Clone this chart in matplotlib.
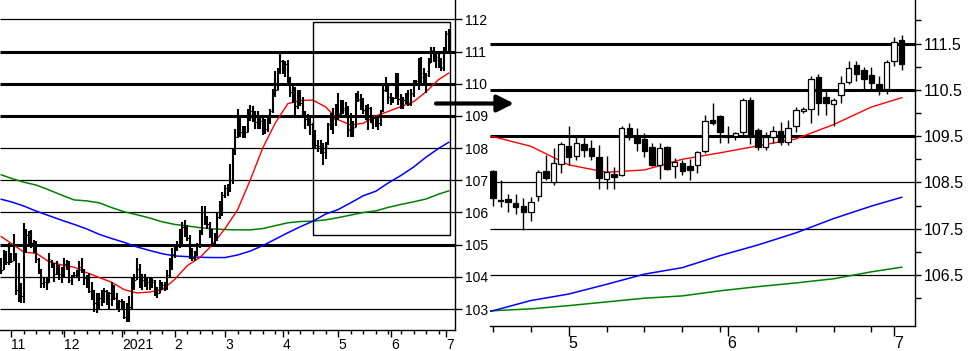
import numpy as np
import pandas as pd
import matplotlib
matplotlib.use("Agg")
import matplotlib.pyplot as plt
from matplotlib.patches import Rectangle, FancyArrowPatch

# trading days (weekdays) shown in the left chart
days = pd.bdate_range("2020-10-27", "2021-07-02")

opens = [104.5, 104.3, 104.6, 104.5, 104.65, 104.55, 104.7, 103.6, 103.5, 103.4,
         105.3, 105.3, 105.1, 105.0, 104.7, 104.5, 104.2, 103.8, 103.85, 103.85,
         104.5, 104.4, 104.1, 104.3, 104.1, 104.3, 104.4, 104.45, 103.9, 104.0,
         104.05, 104.15, 104.3, 104.2, 103.95, 103.9, 103.55, 103.45, 103.2, 103.3,
         103.35, 103.5, 103.55, 103.5, 103.5, 103.5, 103.35, 103.2, 103.25, 103.2,
         102.75, 102.7, 103.05, 103.8, 103.95, 104.25, 103.75, 103.9, 103.85, 103.85,
         103.7, 103.85, 103.5, 103.5, 103.8, 103.75, 103.65, 104.05, 104.3, 104.7,
         104.95, 105.0, 105.05, 105.55, 105.4, 105.2, 104.6, 104.6, 104.75, 104.95,
         105.35, 106.0, 105.85, 105.65, 105.45, 105.05, 105.25, 105.85, 106.2, 106.55,
         106.75, 106.7, 107.0, 107.95, 108.35, 108.9, 108.5, 108.4, 108.5, 109.0,
         109.15, 109.0, 108.8, 108.9, 108.85, 108.75, 108.6, 108.8, 109.15, 109.7,
         109.8, 110.35, 110.7, 110.6, 110.6, 110.2, 109.75, 109.85, 109.3, 109.65,
         109.4, 109.05, 108.9, 108.75,
         108.75, 108.12, 108.15, 108.05, 108.0, 107.87, 108.2, 108.75, 108.52, 108.9,
         109.29, 109.08, 109.33, 109.24, 109.05, 108.57, 108.68, 108.67, 109.67, 109.51,
         109.43, 109.26, 108.88, 109.26, 108.85, 108.93, 108.86, 108.87, 109.17, 109.85,
         109.94, 109.5, 109.51, 109.58, 110.28, 109.63, 109.26, 109.49, 109.62, 109.38,
         109.72, 110.04, 110.08, 110.77, 110.34, 110.19, 110.39, 110.66, 111.04, 110.93,
         110.82, 110.63, 110.51, 111.13, 111.58]
highs = [104.6, 104.84, 104.79, 105.05, 104.73, 105.33, 104.75, 104.42, 103.8, 105.66,
         105.5, 105.41, 105.45, 105.15, 105.1, 104.6, 104.25, 103.96, 104.0, 104.73,
         104.53, 104.42, 104.48, 104.37, 104.32, 104.58, 104.53, 104.5, 104.06, 104.16,
         104.22, 104.48, 104.58, 104.25, 104.06, 104.11, 103.85, 103.6, 103.49, 103.49,
         103.6, 103.65, 103.6, 103.54, 103.85, 103.75, 103.49, 103.29, 103.3, 103.25,
         103.2, 103.4, 104.0, 104.1, 104.6, 104.4, 104.1, 104.1, 104.0, 103.95,
         104.0, 103.9, 103.7, 103.9, 103.85, 103.85, 104.2, 104.6, 104.9, 105.0,
         105.1, 105.5, 105.7, 105.77, 105.6, 105.3, 104.9, 104.8, 105.05, 105.45,
         106.2, 106.2, 105.9, 105.7, 105.5, 105.35, 106.0, 106.35, 106.65, 106.85,
         106.9, 107.5, 108.0, 108.6, 109.2, 108.95, 108.7, 108.7, 109.2, 109.35,
         109.3, 109.15, 109.15, 109.0, 108.95, 108.9, 108.95, 109.2, 109.85, 110.4,
         110.5, 110.94, 110.75, 110.7, 110.75, 110.2, 109.95, 109.9, 109.8, 109.8,
         109.6, 109.15, 109.05, 108.95,
         108.77, 108.56, 108.26, 108.26, 108.16, 108.18, 108.77, 109.1, 109.24, 109.38,
         109.72, 109.49, 109.49, 109.42, 109.3, 109.08, 108.84, 109.72, 109.78, 109.67,
         109.56, 109.35, 109.36, 109.28, 109.02, 108.99, 109.0, 109.17, 109.96, 110.21,
         109.96, 109.71, 109.6, 110.33, 110.34, 109.67, 109.6, 109.71, 109.81, 109.85,
         110.12, 110.12, 110.79, 110.84, 110.48, 110.32, 110.79, 111.13, 111.13, 110.99,
         111.0, 110.79, 111.15, 111.65, 111.69]
lows = [104.1, 104.22, 104.37, 104.37, 104.42, 104.48, 103.44, 103.23, 103.18, 103.2,
        104.75, 104.94, 104.9, 104.73, 104.42, 104.1, 103.65, 103.65, 103.6, 103.8,
        104.27, 103.85, 104.05, 103.9, 103.8, 104.01, 104.22, 103.8, 103.75, 103.96,
        104.01, 103.86, 104.11, 103.75, 103.65, 103.49, 103.29, 102.9, 102.87, 102.97,
        103.08, 103.18, 103.13, 102.97, 103.08, 103.29, 102.97, 102.92, 103.0, 102.7,
        102.6, 102.6, 102.98, 103.6, 103.9, 103.65, 103.6, 103.7, 103.6, 103.6,
        103.65, 103.4, 103.35, 103.5, 103.6, 103.55, 103.6, 103.95, 104.2, 104.6,
        104.8, 104.9, 104.95, 105.25, 105.1, 104.55, 104.5, 104.5, 104.65, 104.9,
        105.3, 105.6, 105.5, 105.2, 104.95, 104.95, 105.1, 105.8, 105.9, 106.45,
        106.5, 106.65, 106.9, 107.8, 108.3, 108.35, 108.3, 108.3, 108.5, 108.85,
        108.8, 108.6, 108.6, 108.6, 108.4, 108.45, 108.5, 108.75, 109.1, 109.6,
        109.8, 110.3, 110.3, 110.2, 109.95, 109.6, 109.4, 109.0, 109.2, 109.3,
        108.95, 108.6, 108.7, 108.4,
        108.0, 107.97, 107.87, 107.82, 107.48, 107.66, 108.09, 108.56, 108.44, 108.7,
        108.88, 108.99, 109.06, 108.99, 108.36, 108.36, 108.36, 108.64, 109.42, 109.17,
        109.06, 108.86, 108.57, 108.77, 108.59, 108.67, 108.56, 108.7, 109.13, 109.74,
        109.36, 109.35, 109.41, 109.53, 109.33, 109.2, 109.2, 109.36, 109.31, 109.31,
        109.6, 109.99, 109.79, 109.96, 109.96, 109.72, 110.22, 110.63, 110.68, 110.48,
        110.48, 110.39, 110.41, 111.02, 110.93]
closes = [104.2, 104.7, 104.45, 104.65, 104.5, 105.0, 103.6, 103.5, 103.4, 105.3,
          105.3, 105.1, 105.05, 104.8, 104.55, 104.2, 103.8, 103.85, 103.8, 104.55,
          104.4, 104.1, 104.3, 104.1, 104.3, 104.4, 104.45, 103.9, 104.0, 104.05,
          104.15, 104.3, 104.2, 103.95, 103.9, 103.55, 103.45, 103.2, 103.3, 103.35,
          103.5, 103.55, 103.5, 103.5, 103.5, 103.35, 103.2, 103.25, 103.2, 102.75,
          102.7, 103.05, 103.8, 103.9, 104.25, 103.75, 103.9, 103.85, 103.85, 103.7,
          103.9, 103.5, 103.5, 103.8, 103.75, 103.65, 104.05, 104.3, 104.7, 104.95,
          105.0, 105.05, 105.55, 105.4, 105.2, 104.6, 104.6, 104.75, 104.95, 105.35,
          106.0, 105.85, 105.65, 105.45, 105.05, 105.25, 105.85, 106.2, 106.55, 106.75,
          106.7, 107.0, 107.95, 108.35, 108.9, 108.5, 108.4, 108.5, 109.0, 109.15,
          109.0, 108.8, 108.9, 108.85, 108.75, 108.6, 108.8, 109.15, 109.7, 109.8,
          110.35, 110.7, 110.6, 110.6, 110.2, 109.75, 109.85, 109.3, 109.65, 109.4,
          109.05, 108.9, 108.75, 108.75,
          108.16, 108.1, 108.07, 107.96, 107.87, 108.08, 108.72, 108.59, 108.93, 109.33,
          109.06, 109.35, 109.19, 109.08, 108.59, 108.72, 108.61, 109.67, 109.48, 109.35,
          109.18, 108.88, 109.24, 108.79, 108.95, 108.74, 108.77, 109.15, 109.82, 109.79,
          109.58, 109.48, 109.56, 110.28, 109.53, 109.27, 109.49, 109.62, 109.37, 109.67,
          110.07, 110.08, 110.73, 110.22, 110.22, 110.28, 110.64, 110.97, 110.84, 110.74,
          110.64, 110.5, 111.11, 111.53, 111.05]

# moving averages, read on the first day, every Monday and the last day
ma_red = [105.25, 105.04, 104.77, 104.73, 104.47, 104.37, 104.3, 104.13, 103.98, 103.83,
          103.6, 103.5, 103.53, 103.6, 103.92, 104.35, 104.6, 105.0, 105.5, 106.08,
          107.0, 108.0, 108.78, 109.38, 109.48, 109.49, 109.28, 108.88, 108.72, 108.77,
          109.0, 109.14, 109.29, 109.44, 109.75, 110.13, 110.33]
ma_blue = [106.41, 106.33, 106.2, 106.04, 105.9, 105.76, 105.63, 105.49, 105.32, 105.19,
           105.07, 104.93, 104.82, 104.72, 104.65, 104.63, 104.61, 104.6, 104.6, 104.68,
           104.8, 104.97, 105.17, 105.37, 105.56, 105.73, 105.95, 106.09, 106.3, 106.52,
           106.66, 106.92, 107.15, 107.41, 107.72, 107.99, 108.18]
ma_green = [107.17, 107.06, 106.94, 106.85, 106.7, 106.54, 106.39, 106.36, 106.3, 106.15,
            106.02, 105.93, 105.83, 105.71, 105.63, 105.58, 105.53, 105.49, 105.47, 105.46,
            105.46, 105.5, 105.59, 105.68, 105.72, 105.73, 105.77, 105.84, 105.92, 106.0,
            106.05, 106.16, 106.25, 106.33, 106.42, 106.57, 106.67]

left_thick = [111, 110, 109, 105]
left_thin = [112, 108, 107, 106, 104, 103]
right_thick = [111.5, 110.5, 109.5]
right_thin = [108.5, 107.5, 106.5]
zoom_start = "2021-04-19"
zoom_lo, zoom_hi = 105.3, 111.92

o = np.array(opens); h = np.array(highs); l = np.array(lows); c = np.array(closes)
x = np.arange(len(days))
mondays = x[days.dayofweek == 0]
ma_x = np.concatenate([[0], mondays, [len(days) - 1]])
month_first = x[np.r_[True, days.month[1:] != days.month[:-1]]]
month_first = month_first[1:]
month_lab = [str(d.month) if d.month != 1 else str(d.year) for d in days[month_first]]
z0 = days.get_loc(pd.Timestamp(zoom_start))

plt.rcParams["font.family"] = ["Liberation Sans", "DejaVu Sans"]

fig = plt.figure(figsize=(9.69, 3.51), dpi=100)
W, H = 969, 351
ax1 = fig.add_axes([0, (H - 330) / H, 455 / W, 330 / H])
ax2 = fig.add_axes([490 / W, (H - 326) / H, 425 / W, 326 / H])

for ax in (ax1, ax2):
    ax.patch.set_alpha(0)
    for s in ("top", "left"):
        ax.spines[s].set_visible(False)
    for s in ("right", "bottom"):
        ax.spines[s].set_linewidth(1.0)
    ax.yaxis.tick_right()
    ax.tick_params(axis="both", which="both", direction="out", width=1, colors="black")

# ---- left: OHLC bars
ax1.set_xlim(-0.5, 180.5)
ax1.set_ylim(102.35, 112.6)
ax1.hlines(left_thin, -0.5, 180.5, color="black", lw=0.9, zorder=1)
ax1.hlines(left_thick, -0.5, 180.5, color="black", lw=2.2, zorder=1)
ax1.plot(ma_x, ma_green, color="#008000", lw=1.1, zorder=2)
ax1.plot(ma_x, ma_blue, color="#0000ff", lw=1.1, zorder=2)
ax1.plot(ma_x, ma_red, color="#ff0000", lw=1.0, zorder=2)
ax1.vlines(x, l, h, color="black", lw=1.5, zorder=3)
ax1.hlines(o, x - 0.5, x, color="black", lw=0.8, zorder=3)
ax1.hlines(c, x, x + 0.5, color="black", lw=0.8, zorder=3)
ax1.add_patch(Rectangle((z0, zoom_lo), len(days) - 0.5 - z0, zoom_hi - zoom_lo,
                        fill=False, ec="black", lw=1.0, zorder=4))
ax1.set_yticks(range(103, 113))
ax1.tick_params(axis="y", length=5, pad=2, labelsize=10)
ax1.set_xticks(month_first)
ax1.set_xticklabels(month_lab, ha="left")
ax1.set_xticks(mondays, minor=True)
ax1.tick_params(axis="x", which="major", length=5, pad=1, labelsize=10)
ax1.tick_params(axis="x", which="minor", length=3)

# ---- right: candlesticks for the zoomed period
xs = x[z0:]
ax2.set_xlim(z0 - 0.4, z0 + 55.75)
ax2.set_ylim(105.4, 112.44)
ax2.hlines(right_thin, z0 - 0.4, z0 + 55.75, color="black", lw=0.9, zorder=1)
ax2.hlines(right_thick, z0 - 0.4, z0 + 55.75, color="black", lw=2.2, zorder=1)
ax2.plot(ma_x, ma_green, color="#008000", lw=1.1, zorder=2)
ax2.plot(ma_x, ma_blue, color="#0000ff", lw=1.1, zorder=2)
ax2.plot(ma_x, ma_red, color="#ff0000", lw=1.0, zorder=2)
ax2.vlines(xs, l[z0:], h[z0:], color="black", lw=1.0, zorder=3)
up = c[z0:] >= o[z0:]
body_lo = np.minimum(o[z0:], c[z0:])
body_h = np.maximum(np.abs(c[z0:] - o[z0:]), 0.02)
ax2.bar(xs, body_h, bottom=body_lo, width=0.72,
        color=np.where(up, "white", "black"), edgecolor="black", lw=0.9, zorder=4)
yt = np.arange(106, 112.01, 0.5)
ax2.set_yticks(yt)
ax2.set_yticklabels(["%.1f" % v if v % 1 == 0.5 else "" for v in yt])
ax2.tick_params(axis="y", length=4, pad=2, labelsize=11.5)
ax2.set_xticks([m for m in month_first if m >= z0])
ax2.set_xticklabels([month_lab[i] for i, m in enumerate(month_first) if m >= z0], ha="left")
ax2.set_xticks([m for m in mondays if m >= z0], minor=True)
ax2.tick_params(axis="x", which="major", length=7, pad=0, labelsize=11.5)
ax2.tick_params(axis="x", which="minor", length=4)

# arrow between the two charts
arr = FancyArrowPatch((436 / W, 1 - 103.5 / H), (514 / W, 1 - 103.5 / H),
                      transform=fig.transFigure,
                      arrowstyle="-|>,head_length=10,head_width=5",
                      lw=3.0, color="black", shrinkA=0, shrinkB=0, zorder=10)
fig.add_artist(arr)

fig.savefig("out.png", dpi=100)
